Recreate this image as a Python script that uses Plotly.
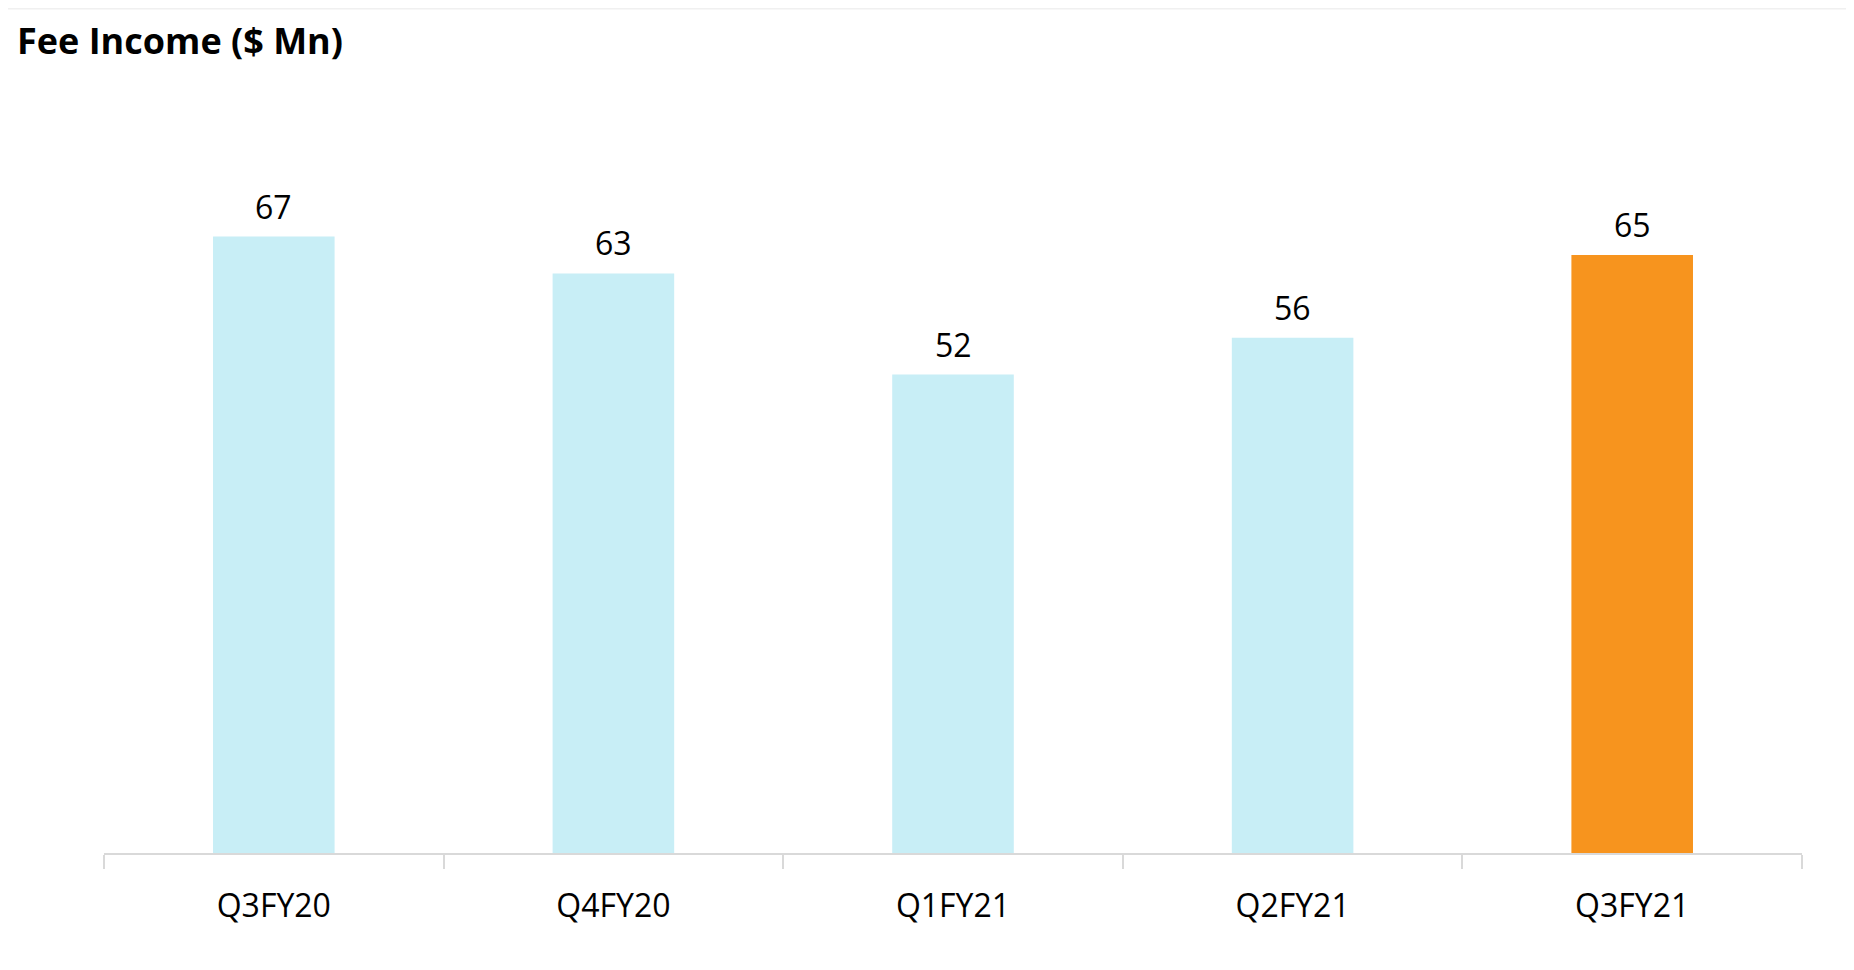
import plotly.graph_objects as go

categories = ["Q3FY20", "Q4FY20", "Q1FY21", "Q2FY21", "Q3FY21"]
fee_income = [67, 63, 52, 56, 65]
bar_colors = ["#C8EEF6", "#C8EEF6", "#C8EEF6", "#C8EEF6", "#F7941E"]
title_text = "Fee Income ($ Mn)"

# page has an 8px body margin, so the figure is drawn 8px right/down
W, H = 1846, 954
ml, mr, mt, mb = 96, 52, 92, 109

fig = go.Figure()
fig.add_trace(go.Bar(
    x=categories, y=fee_income,
    marker=dict(color=bar_colors, line=dict(width=0)),
    width=0.358,
    hoverinfo="x+y",
))

for c, v in zip(categories, fee_income):
    fig.add_annotation(x=c, y=v, text=str(v), showarrow=False,
                       yanchor="bottom", yshift=7,
                       font=dict(family="Open Sans", size=32, color="#000000"))

pw = W - ml - mr
ph = H - mt - mb
def px_x(x):
    return (x - ml) / pw
def px_y(y):
    return 1 - (y - mt) / ph

fig.update_layout(
    width=W, height=H,
    margin=dict(l=ml, r=mr, t=mt, b=mb),
    paper_bgcolor="white", plot_bgcolor="white",
    showlegend=False,
    title=dict(text="<b>" + title_text + "</b>", x=9 / W, xanchor="left",
               xref="container", y=1 - 33 / H, yanchor="middle", yref="container",
               font=dict(family="Open Sans", size=36, color="#000000")),
    xaxis=dict(showline=True, linecolor="#D9D9D9", linewidth=2,
               ticks="outside", tickson="boundaries", ticklen=14, tickwidth=2,
               tickcolor="#D9D9D9", showgrid=False,
               tickfont=dict(family="Open Sans", size=32, color="#000000"),
               ticklabelstandoff=24),
    yaxis=dict(visible=False, range=[0, ph / 9.2], showgrid=False, zeroline=False),
    shapes=[
        dict(type="line", xref="paper", yref="paper",
             x0=px_x(0), x1=px_x(1840), y0=px_y(0), y1=px_y(0),
             line=dict(color="#F0F0F0", width=3)),
        dict(type="line", xref="paper", yref="paper",
             x0=px_x(1842), x1=px_x(1842), y0=px_y(0), y1=px_y(954),
             line=dict(color="#BDBDBD", width=4)),
    ],
)

fig.write_html("out.html")
